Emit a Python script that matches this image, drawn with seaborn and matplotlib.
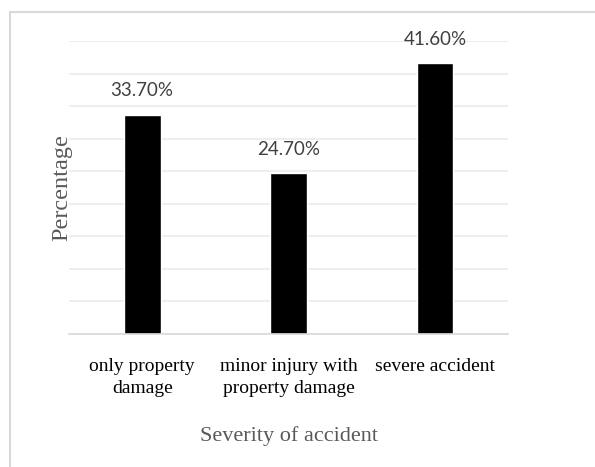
import seaborn as sns
import matplotlib.pyplot as plt
from matplotlib.patches import Rectangle
import pandas as pd

# data
categories = ['only property\ndamage', 'minor injury with\nproperty damage', 'severe accident']
percentages = [33.7, 24.7, 41.6]

df = pd.DataFrame({'Severity': categories, 'Percentage': percentages})

sns.set_style('white')
fig = plt.figure(figsize=(5.95, 4.67), dpi=100)
ax = fig.add_axes([0.116, 0.285, 0.738, 0.627])

sns.barplot(data=df, x='Severity', y='Percentage', color='black',
            width=0.25, saturation=1, ax=ax)

ax.set_ylim(0, 45)
ax.set_yticks(range(0, 50, 5))
ax.yaxis.grid(True, color='#ebebeb', linewidth=1.2)
ax.set_axisbelow(True)
ax.tick_params(axis='y', length=0, labelleft=False)
ax.tick_params(axis='x', length=0, pad=17)
for s in ['top', 'right', 'left']:
    ax.spines[s].set_visible(False)
ax.spines['bottom'].set_color('#d9d9d9')
ax.spines['bottom'].set_linewidth(1.2)

for lbl in ax.get_xticklabels():
    lbl.set_fontfamily('Liberation Serif')
    lbl.set_fontsize(14)
    lbl.set_color('black')
    lbl.set_linespacing(1.45)

for i, v in enumerate(percentages):
    ax.annotate(f'{v:.2f}%', (i, v), xytext=(0, 11), textcoords='offset points',
                ha='center', va='bottom', fontsize=13.5, color='#404040',
                fontfamily='Lato')

ax.set_xlabel('Severity of accident', fontsize=16, color='#595959',
              fontfamily='Liberation Serif', labelpad=21)
ax.set_ylabel('Percentage', fontsize=17.5, color='#595959',
              fontfamily='Liberation Serif', labelpad=-2)

# chart area border
fig.patches.append(Rectangle((10 / 595, -0.1), 1.0, 1 - 12 / 467 + 0.1,
                             transform=fig.transFigure, fill=False,
                             edgecolor='#d9d9d9', linewidth=1.5))

fig.savefig('out.png', dpi=100)
